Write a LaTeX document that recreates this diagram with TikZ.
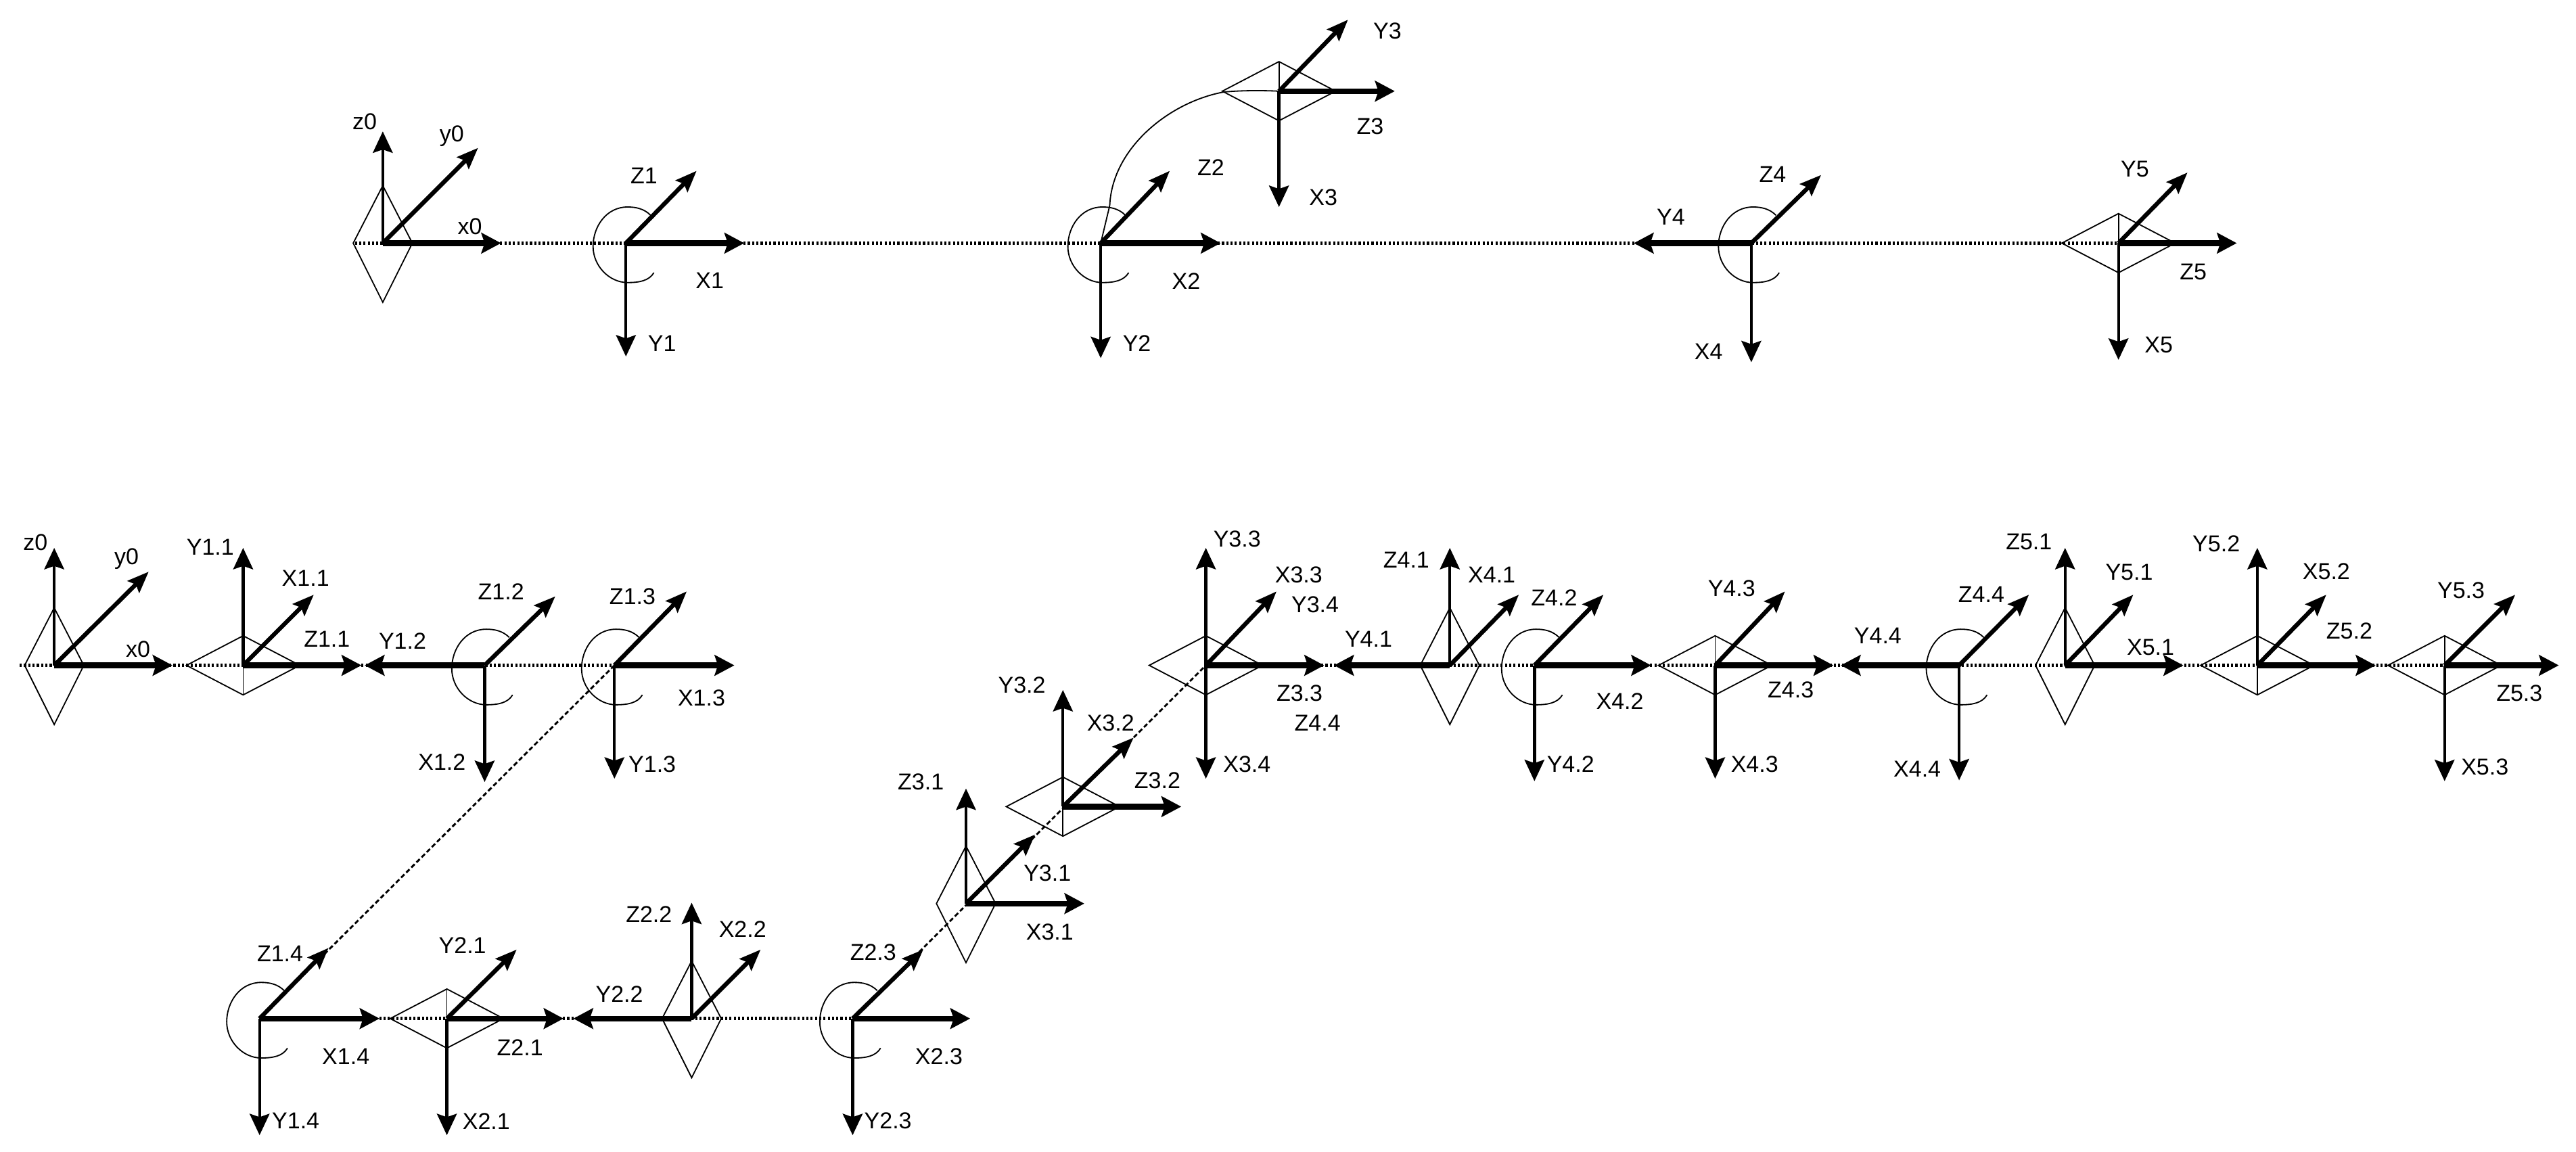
\documentclass[tikz,border=0pt]{standalone}
\usepackage{fontspec}
\setmainfont{Liberation Sans}
\usepackage{tikz}
\usetikzlibrary{arrows.meta}
\tikzset{
  pics/kitebody/.style={code={\draw[thinline] (-18,0) -- (0,-35) -- (18,0) -- (0,36) -- cycle;}},
  pics/diamondbody/.style={code={
    \draw[thinline] (-34.5,0) -- (0,-18) -- (34.5,0) -- (0,18) -- cycle;
    \draw[thinline] (0,-18) -- (0,18);}},
  pics/hookarc/.style={code={
    \draw[thinline] (15,-17) .. controls (11,-21) and (6,-22) .. (1,-22)
      .. controls (-12,-22) and (-20,-10) .. (-20,2)
      .. controls (-20,14) and (-10,24) .. (1,24) .. controls (8,24) and (14,23) .. (17,18);}},
  thinline/.style={line width=0.75pt, draw=black},
  dotline/.style={line width=2.1pt, draw=black, dash pattern=on 1.3pt off 1.3pt},
  dashline/.style={line width=1.2pt, draw=black, dash pattern=on 2.8pt off 1.6pt},
  vertarr/.style={-{Stealth[length=13pt,width=12pt,inset=2pt]}, line width=1.8pt},
  horizarr/.style={-{Stealth[length=12pt,width=12.5pt,inset=2pt]}, line width=3.4pt},
  diagarr/.style={-{Stealth[length=13pt,width=10pt,inset=2pt]}, line width=2.6pt},
  lbl/.style={font=\fontsize{14}{14}\selectfont, text=black, inner sep=0pt}
}
\begin{document}
\begin{tikzpicture}[x=1pt,y=-1pt]
  \useasboundingbox (0,0) rectangle (1568,701);
  % Frame origins, top chain then bottom chain
  \foreach \fr/\ox/\oy in {t0/233/148, t1/381/148, t2/670/148, t3/778.5/55.5, t4/1066/148, t5/1289.5/148,
      b0/33/405, b11/148/405, b12/295/405, b13/374/405, b14/158/620, b21/272/620, b22/421/620, b23/519/620,
      b31/588/550, b32/647/491, b33/734/405, b41/882.5/405, b42/934/405, b43/1044/405, b44/1192.5/405,
      b51/1257/405, b52/1374/405, b53/1488/405}
    \coordinate (\fr) at (\ox,\oy);
  % Dotted links between frames
  \coordinate (tstart) at (216,148);
  \coordinate (bstart) at (12,405);
  \draw[dotline] (tstart) -- (t5);
  \draw[dotline] (bstart) -- (b13);
  \draw[dashline] (b13) -- (b14);
  \draw[dotline] (b14) -- (b23);
  \draw[dashline] (b23) -- (b33);
  \draw[dotline] (b33) -- (b53);
  % Joint bodies
  \foreach \fr in {t0,b0,b22,b31,b41,b51} \pic at (\fr) {kitebody};
  \foreach \fr in {t3,t5,b11,b21,b32,b33,b43,b52,b53} \pic at (\fr) {diamondbody};
  \foreach \fr in {t1,t2,t4,b12,b13,b14,b23,b42,b44} \pic at (\fr) {hookarc};
  % Curved link up to frame 3
  \coordinate (bendA) at (675.5,125);
  \coordinate (bendB) at (745,56);
  \draw[thinline] (t2) -- (bendA) .. controls (677,90) and (712,62) .. (bendB)
    .. controls (756,55) and (768,55) .. (t3);
  % Axes pointing up
  \foreach \fr/\tx/\ty in {t0/233/80, b0/33/333.5, b11/148/333.5, b22/421/549.5, b31/588/480, b32/647/420,
      b33/734/333.5, b41/882.5/333.5, b51/1257/333.5, b52/1374/333.5} {
    \coordinate (\fr-up) at (\tx,\ty);
    \draw[vertarr] (\fr) -- (\fr-up);
  }
  % Axes pointing down
  \foreach \fr/\tx/\ty in {t1/381/217, t2/670/218, t3/778.5/126, t4/1066/220.5, t5/1289.5/219,
      b12/295/476, b13/374/474, b14/158/691, b21/272/691, b23/519/691, b33/734/474,
      b42/934/475.5, b43/1044/474, b44/1192.5/475, b53/1488/475.5} {
    \coordinate (\fr-dn) at (\tx,\ty);
    \draw[vertarr] (\fr) -- (\fr-dn);
  }
  % Axes pointing right
  \foreach \fr/\tx/\ty in {t0/305/148, t1/453/148, t2/743/148, t3/849/55.5, t5/1361.5/148,
      b0/105/405, b11/220/405, b13/447/405, b14/231/620, b21/343/620, b23/590.5/620, b31/660/550, b32/719/491,
      b33/806/405, b42/1005/405, b43/1116/405, b51/1329/405, b52/1446/405, b53/1557.5/405} {
    \coordinate (\fr-rt) at (\tx,\ty);
    \draw[horizarr] (\fr) -- (\fr-rt);
  }
  % Axes pointing left
  \foreach \fr/\tx/\ty in {t4/994.5/148, b12/222/405, b22/349/620, b41/812/405, b44/1120.5/405} {
    \coordinate (\fr-lt) at (\tx,\ty);
    \draw[horizarr] (\fr) -- (\fr-lt);
  }
  % Slanted axes
  \foreach \fr/\tx/\ty in {t0/291/90, t1/424/104, t2/712/104, t3/820.5/12, t4/1108.5/106.5, t5/1331.5/105,
      b0/90.5/348, b11/191/362, b12/338/363, b13/418/360, b14/200/577, b21/314.5/578, b22/463/578, b23/562/578,
      b31/630/508, b32/690/449, b33/777/360, b41/924.5/362, b42/976/362, b43/1086.5/360, b44/1235/362,
      b51/1298.5/362, b52/1416/362, b53/1531/362} {
    \coordinate (\fr-sl) at (\tx,\ty);
    \draw[diagarr] (\fr) -- (\fr-sl);
  }
  % Top chain labels
  \node[lbl] (tz0) at (222,74) {z0};
  \node[lbl] (ty0) at (275,83) {y0};
  \node[lbl] (tx0) at (286,138) {x0};
  \node[lbl] (Z1) at (392,107) {Z1};
  \node[lbl] (X1) at (432,171) {X1};
  \node[lbl] (Y1) at (403,209) {Y1};
  \node[lbl] (Z2) at (737,102) {Z2};
  \node[lbl] (X2) at (722,171) {X2};
  \node[lbl] (Y2) at (692,209) {Y2};
  \node[lbl] (Y3) at (844.5,19) {Y3};
  \node[lbl] (Z3) at (834,77) {Z3};
  \node[lbl] (X3) at (805.5,120) {X3};
  \node[lbl] (Z4) at (1079,106) {Z4};
  \node[lbl] (Y4) at (1017,132) {Y4};
  \node[lbl] (X4) at (1040,214) {X4};
  \node[lbl] (Y5) at (1299.5,103) {Y5};
  \node[lbl] (Z5) at (1335,165.5) {Z5};
  \node[lbl] (X5) at (1314,210) {X5};
  % Bottom chain labels, first link
  \node[lbl] (bz0) at (21.5,330) {z0};
  \node[lbl] (by0) at (77,340) {y0};
  \node[lbl] (bx0) at (84,395) {x0};
  \node[lbl] (Y11) at (128,333) {Y1.1};
  \node[lbl] (X11) at (186,352) {X1.1};
  \node[lbl] (Z11) at (199,389) {Z1.1};
  \node[lbl] (Z12) at (305,360) {Z1.2};
  \node[lbl] (Y12) at (245,390) {Y1.2};
  \node[lbl] (X12) at (269,464) {X1.2};
  \node[lbl] (Z13) at (385,363) {Z1.3};
  \node[lbl] (X13) at (427,425) {X1.3};
  \node[lbl] (Y13) at (397,465) {Y1.3};
  \node[lbl] (Z14) at (170.5,580.5) {Z1.4};
  \node[lbl] (X14) at (210.5,643) {X1.4};
  \node[lbl] (Y14) at (180,682) {Y1.4};
  % Second link
  \node[lbl] (Y21) at (281.5,575.5) {Y2.1};
  \node[lbl] (Z21) at (316.5,637.5) {Z2.1};
  \node[lbl] (X21) at (296,682.5) {X2.1};
  \node[lbl] (Z22) at (395,556.5) {Z2.2};
  \node[lbl] (X22) at (452,565.5) {X2.2};
  \node[lbl] (Y22) at (377,605) {Y2.2};
  \node[lbl] (Z23) at (531.5,579.5) {Z2.3};
  \node[lbl] (X23) at (571.5,643) {X2.3};
  \node[lbl] (Y23) at (540.5,682) {Y2.3};
  % Third link
  \node[lbl] (Z31) at (560.5,476) {Z3.1};
  \node[lbl] (Y31) at (637.5,531.5) {Y3.1};
  \node[lbl] (X31) at (639,567.5) {X3.1};
  \node[lbl] (Y32) at (622,417) {Y3.2};
  \node[lbl] (X32) at (676,440) {X3.2};
  \node[lbl] (Z32) at (704.5,475) {Z3.2};
  \node[lbl] (Y33) at (753,328) {Y3.3};
  \node[lbl] (X33) at (790.5,350) {X3.3};
  \node[lbl] (Y34) at (800.5,368) {Y3.4};
  \node[lbl] (Z33) at (791,422) {Z3.3};
  \node[lbl] (Z44a) at (802,440) {Z4.4};
  \node[lbl] (X34) at (759,465) {X3.4};
  % Fourth link
  \node[lbl] (Y41) at (833,389) {Y4.1};
  \node[lbl] (Z41) at (856,341) {Z4.1};
  \node[lbl] (X41) at (908,350) {X4.1};
  \node[lbl] (Z42) at (946,364) {Z4.2};
  \node[lbl] (X42) at (986,427) {X4.2};
  \node[lbl] (Y42) at (956,465) {Y4.2};
  \node[lbl] (Y43) at (1054,358) {Y4.3};
  \node[lbl] (Z43) at (1090,420) {Z4.3};
  \node[lbl] (X43) at (1068,465) {X4.3};
  \node[lbl] (Y44) at (1143,387) {Y4.4};
  \node[lbl] (Z44) at (1206,362) {Z4.4};
  \node[lbl] (X44) at (1167,468) {X4.4};
  % Fifth link
  \node[lbl] (Z51) at (1235,330) {Z5.1};
  \node[lbl] (Y51) at (1296,348.5) {Y5.1};
  \node[lbl] (X51) at (1309,394) {X5.1};
  \node[lbl] (Y52) at (1349,331) {Y5.2};
  \node[lbl] (X52) at (1416,348) {X5.2};
  \node[lbl] (Z52) at (1430,384) {Z5.2};
  \node[lbl] (Y53) at (1498,359.5) {Y5.3};
  \node[lbl] (Z53) at (1533.5,422) {Z5.3};
  \node[lbl] (X53) at (1512.5,467) {X5.3};
\end{tikzpicture}
\end{document}
